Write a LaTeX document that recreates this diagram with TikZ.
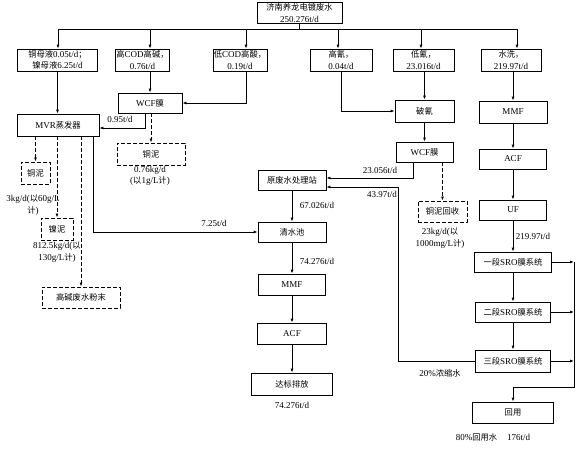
\documentclass[tikz,border=0pt]{standalone}
\usepackage{fontspec}
\setmainfont{Liberation Serif}
\newfontfamily\cjk[Scale=0.92]{Noto Sans CJK SC}
\newcommand\zh[1]{{\cjk #1}}
\usetikzlibrary{positioning,calc,arrows.meta}
\tikzset{
    flow/.style={
        x=1pt, y=-1pt,
        font=\fontsize{9}{11.5}\selectfont,
        line width=0.8pt,
        % Stile per unita di processo (rettangolo pieno)
        unit/.style={draw, rectangle, align=center,
                     minimum height=20pt, inner sep=1pt},
        % Stile per fanghi e residui (rettangolo tratteggiato)
        waste/.style={draw, rectangle, align=center,
                      dash pattern=on 4pt off 2pt, line width=1pt,
                      minimum height=22pt, inner sep=1pt},
        % Stile per portate
        flux/.style={align=center, inner sep=0pt},
        pipe/.style={-{Latex[length=4pt,width=3pt]}},
        dpipe/.style={pipe, dash pattern=on 4pt off 2pt}
    }
}
\begin{document}
\begin{tikzpicture}[flow]
    \useasboundingbox (0,0) rectangle (584,451);
    % sorgente e flussi separati
    \node[unit, minimum width=85pt] (src) at (299.5,13) {\zh{济南养龙电镀废水}\\250.276t/d};
    \node[unit, minimum width=80pt, minimum height=22pt] (cu) at (57.5,60) {\zh{铜母液}0.05t/d\zh{；}\\\zh{镍母液}6.25t/d};
    \node[unit, minimum width=51pt, minimum height=22pt] (hc) at (142.5,60) {\zh{高}COD\zh{高碱，}\\0.76t/d};
    \node[unit, minimum width=52pt, minimum height=22pt] (lc) at (240,60) {\zh{低}COD\zh{高酸，}\\0.19t/d};
    \node[unit, minimum width=62pt, minimum height=22pt] (hcn) at (341,60) {\zh{高氰，}\\0.04t/d};
    \node[unit, minimum width=61pt, minimum height=22pt] (lcn) at (423.5,60) {\zh{低氰，}\\23.016t/d};
    \node[unit, minimum width=60pt, minimum height=22pt] (wash) at (511,60) {\zh{水洗，}\\219.97t/d};
    \coordinate (bus) at (299.5,29);
    \draw (src) -- (bus);
    \draw ([xshift=0.5pt]cu.north |- bus) -- ([xshift=6pt]wash.north |- bus);
    \foreach \n/\d in {cu/0.5,hc/7.5,lc/6,hcn/-3,lcn/-2.5,wash/6}
        \draw[pipe] ([xshift={\d pt}]\n.north |- bus) -- ([xshift={\d pt}]\n.north);

    % linea sinistra: WCF e MVR
    \node[unit, minimum width=64pt] (wcf1) at (150,103) {WCF\zh{膜}};
    \node[unit, minimum width=82pt, minimum height=22pt] (mvr) at (58,125) {MVR\zh{蒸发器}};
    \draw[pipe] (cu.south) -- (cu.south |- mvr.north);
    \draw[pipe] (wcf1.north |- hc.south) -- (wcf1.north);
    \draw[pipe] ([xshift=6pt]lc.south) |- (wcf1.east);
    \draw[pipe] ([xshift=-5pt]wcf1.south) |- ([yshift=-3pt]mvr.east);
    \node[flux] (f1) at (120,119) {0.95t/d};
    \node[waste, minimum width=68pt] (cu2) at (151,154) {\zh{铜泥}};
    \draw[dpipe] (cu2.north |- wcf1.south) -- (cu2.north);
    \node[flux] (f2) at (150,176) {0.76kg/d\\(\zh{以}1g/L\zh{计})};
    \node[waste, minimum width=29pt] (cu1) at (35.5,173) {\zh{铜泥}};
    \node[waste, minimum width=32pt] (ni) at (57,229) {\zh{镍泥}};
    \node[waste, minimum width=78pt, minimum height=21pt] (pw) at (81,297.5) {\zh{高碱废水粉末}};
    \draw[dpipe] (mvr.south -| cu1) -- (cu1);
    \draw[dpipe] (mvr.south -| ni) -- (ni);
    \draw[dpipe] (mvr.south -| pw) -- (pw);
    \node[flux] (f3) at (33,205) {3kg/d(\zh{以}60g/L\\\zh{计})};
    \node[flux] (f4) at (57,252) {812.5kg/d(\zh{以}\\130g/L\zh{计})};

    % linea centrale
    \node[unit, minimum width=68pt] (raw) at (292,180) {\zh{原废水处理站}};
    \node[unit, minimum width=68pt] (pool) at (292,232) {\zh{清水池}};
    \node[unit, minimum width=67pt, minimum height=21pt] (mmf1) at (292,284.5) {MMF};
    \node[unit, minimum width=69pt, minimum height=21pt] (acf1) at (292,333.5) {ACF};
    \node[unit, minimum width=81pt, minimum height=22pt] (out) at (292,384) {\zh{达标排放}};
    \draw[pipe] ([xshift=35pt]mvr.south) |- (pool.west);
    \node[flux] (f5) at (214,223) {7.25t/d};
    \draw[pipe] (raw) -- (pool);
    \draw[pipe] (pool) -- (mmf1);
    \draw[pipe] (mmf1) -- (acf1);
    \draw[pipe] (acf1) -- (out);
    \node[flux] (f6) at (317,205) {67.026t/d};
    \node[flux] (f7) at (317,261) {74.276t/d};
    \node[flux] (f8) at (292,405) {74.276t/d};

    % linea cianuri
    \node[unit, minimum width=59pt, minimum height=22pt] (pcn) at (424.5,111) {\zh{破氰}};
    \node[unit, minimum width=57pt] (wcf2) at (424.5,152) {WCF\zh{膜}};
    \draw[pipe] (hcn.south) |- (pcn.west);
    \draw[pipe] (pcn.north |- lcn.south) -- (pcn.north);
    \draw[pipe] (pcn) -- (wcf2);
    \draw[pipe] ([xshift=-11.5pt]wcf2.south) |- ([yshift=2pt]raw.east);
    \node[flux] (f9) at (380,170) {23.056t/d};
    \node[waste, minimum width=49pt, minimum height=21pt] (cu3) at (442.5,211.5) {\zh{铜泥回收}};
    \draw[dpipe] (cu3.north |- wcf2.south) -- (cu3.north);
    \node[flux] (f10) at (440,238) {23kg/d(\zh{以}\\1000mg/L\zh{计})};

    % linea lavaggio e SRO
    \node[unit, minimum width=68pt, minimum height=22pt] (mmf2) at (513,112) {MMF};
    \node[unit, minimum width=67pt] (acf2) at (513,159) {ACF};
    \node[unit, minimum width=67pt] (uf) at (513,210) {UF};
    \node[unit, minimum width=77pt] (sro1) at (513,262) {\zh{一段}SRO\zh{膜系统}};
    \node[unit, minimum width=75pt] (sro2) at (513,312) {\zh{二段}SRO\zh{膜系统}};
    \node[unit, minimum width=75pt, minimum height=22pt] (sro3) at (513,361) {\zh{三段}SRO\zh{膜系统}};
    \node[unit, minimum width=81pt, minimum height=21pt] (reuse) at (513,412.5) {\zh{回用}};
    \draw[pipe] (mmf2.north |- wash.south) -- (mmf2.north);
    \draw[pipe] (mmf2) -- (acf2);
    \draw[pipe] (acf2) -- (uf);
    \draw[pipe] (uf) -- (sro1);
    \draw[pipe] (sro1) -- (sro2);
    \draw[pipe] (sro2) -- (sro3);
    \node[flux] (f11) at (533,236) {219.97t/d};
    \coordinate (ret) at (574,387);
    \draw[pipe] (sro1.east) -- (sro1.east -| ret);
    \draw[pipe] (sro2.east) -- (sro2.east -| ret);
    \draw[pipe] (sro3.east) -- (sro3.east -| ret);
    \draw[pipe] (sro1.east -| ret) -- (ret) -| (reuse.north);
    \coordinate (conc) at (398,187);
    \draw[pipe] (sro3.west) -| (conc) -- (conc -| raw.east);
    \node[flux] (f12) at (382,194) {43.97t/d};
    \node[flux] (f13) at (440,373) {20\%\zh{浓缩水}};
    \node[flux] (f14) at (493,437) {80\%\zh{回用水}\hspace{10pt}176t/d};
\end{tikzpicture}
\end{document}
